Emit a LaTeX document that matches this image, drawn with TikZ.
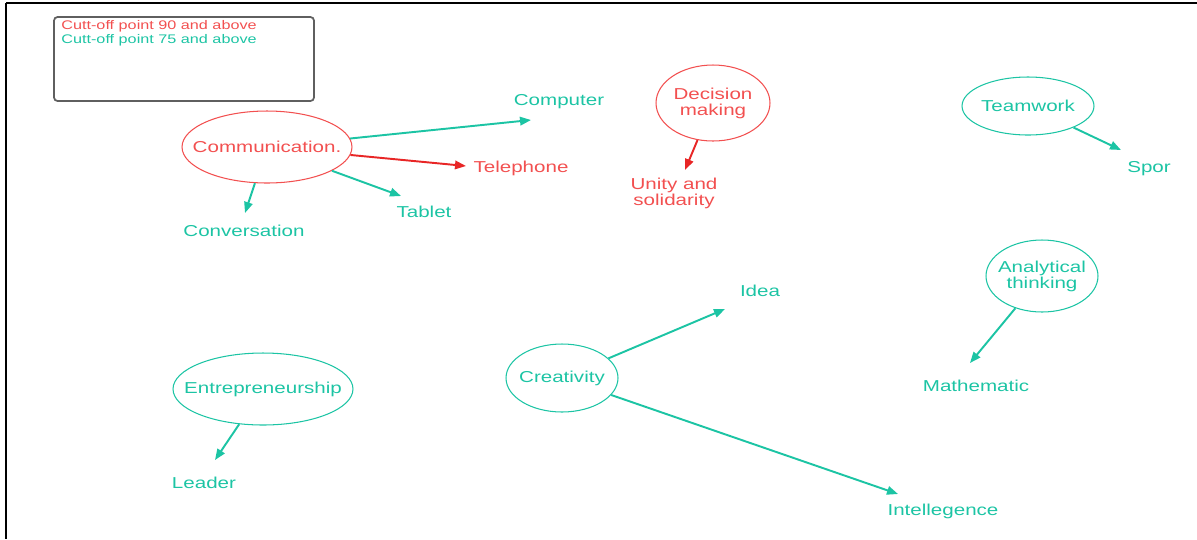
\documentclass[tikz,border=0pt]{standalone}
\usepackage{fontspec}
\setmainfont{Liberation Sans}[FakeStretch=1.3]
\usetikzlibrary{arrows.meta, shapes.geometric}
\definecolor{topred}{RGB}{242,80,80}
\definecolor{arrred}{RGB}{232,38,38}
\definecolor{okteal}{RGB}{28,196,164}
\definecolor{boxgray}{RGB}{95,95,95}

\begin{document}
\begin{tikzpicture}[x=0.02cm, y=-0.02cm, >={Triangle[length=2.2mm, width=1.7mm]},
    font=\fontsize{9}{9}\selectfont,
    skill/.style={draw, ellipse, inner sep=0pt, line width=0.6pt},
    word/.style={inner sep=1pt, align=center},
    link/.style={->, line width=1.1pt}]
        \useasboundingbox (0,0) rectangle (1197,539);

        % frame of the page
        \draw[line width=1.2pt] (6,3) -- (6,539);
        \draw[line width=0.6pt] (6,3) -- (1197,3);
        \draw[line width=1.3pt] (6,3) -- (33,3);
        \draw[line width=1.3pt] (1177,3) -- (1197,3);

        % key
        \node[draw=boxgray, rounded corners=2pt, line width=1pt, minimum width=5.2cm, minimum height=1.68cm, inner sep=0pt] (legend) at (184,59) {};
        \node[anchor=west, inner sep=0pt, topred, font=\fontsize{7.1}{7}\selectfont] (key90) at (61,26) {Cutt-off point 90 and above};
        \node[anchor=west, inner sep=0pt, okteal, font=\fontsize{7.1}{7}\selectfont] (key75) at (61,40) {Cutt-off point 75 and above};

        % red skills
        \node[skill, draw=topred, minimum width=3.4cm, minimum height=1.44cm, label={[topred]center:Communication.}] (comm) at (267,147) {};
        \node[skill, draw=topred, minimum width=2.28cm, minimum height=1.52cm, label={[topred, align=center]center:Decision\\making}] (decide) at (713,103) {};

        % teal skills
        \node[skill, draw=okteal, minimum width=2.64cm, minimum height=1.16cm, label={[okteal]center:Teamwork}] (team) at (1028,106) {};
        \node[skill, draw=okteal, minimum width=2.24cm, minimum height=1.44cm, label={[okteal, align=center]center:Analytical\\thinking}] (analytic) at (1042,276) {};
        \node[skill, draw=okteal, minimum width=2.24cm, minimum height=1.36cm, label={[okteal]center:Creativity}] (create) at (562,378) {};
        \node[skill, draw=okteal, minimum width=3.6cm, minimum height=1.44cm, label={[okteal]center:Entrepreneurship}] (entre) at (263,389) {};

        % words
        \node[word, okteal, anchor=base] (computer) at (559,105) {Computer};
        \node[word, topred, anchor=base] (phone) at (521,172) {Telephone};
        \node[word, okteal, anchor=base] (tablet) at (424,217) {Tablet};
        \node[word, okteal, anchor=base] (talk) at (244,236) {Conversation};
        \node[word, topred] (unity) at (674,193) {Unity and\\solidarity};
        \node[word, okteal, anchor=base] (spor) at (1149,172) {Spor};
        \node[word, okteal, anchor=base] (maths) at (976,391) {Mathematic};
        \node[word, okteal, anchor=base] (idea) at (760,296) {Idea};
        \node[word, okteal, anchor=base] (intel) at (943,515) {Intellegence};
        \node[word, okteal, anchor=base] (leader) at (204,488) {Leader};

        % arrow tips
        \coordinate (computer-in) at (531,120);
        \coordinate (phone-in) at (466,166);
        \coordinate (tablet-in) at (401,196);
        \coordinate (talk-in) at (245,213);
        \coordinate (unity-in) at (685,170);
        \coordinate (spor-in) at (1121,150);
        \coordinate (maths-in) at (970,363);
        \coordinate (idea-in) at (725,309);
        \coordinate (intel-in) at (898,494);
        \coordinate (leader-in) at (215,460);

        \draw[link, okteal] (comm) -- (computer-in);
        \draw[link, arrred] (comm) -- (phone-in);
        \draw[link, okteal] (comm) -- (tablet-in);
        \draw[link, okteal] (comm) -- (talk-in);
        \draw[link, arrred] (decide) -- (unity-in);
        \draw[link, okteal] (team) -- (spor-in);
        \draw[link, okteal] (analytic) -- (maths-in);
        \draw[link, okteal] (create) -- (idea-in);
        \draw[link, okteal] (create) -- (intel-in);
        \draw[link, okteal] (entre) -- (leader-in);
      \end{tikzpicture}
\end{document}
